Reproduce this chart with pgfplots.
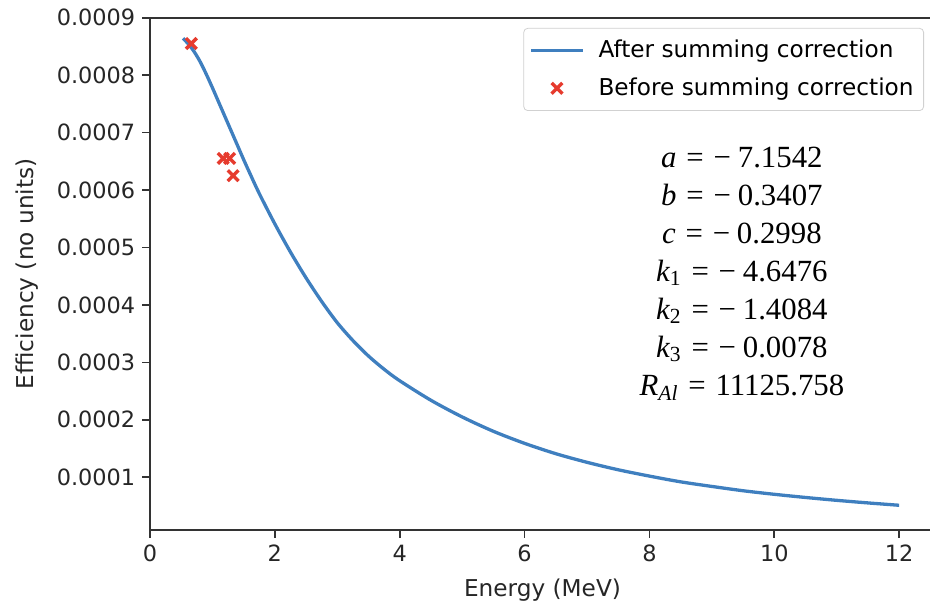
\documentclass[border=0pt]{standalone}
\usepackage{pgfplots}
\pgfplotsset{compat=1.18}
\usepackage{fontspec}
\setmainfont{DejaVu Sans}
\newfontfamily\tms{Liberation Serif}
\definecolor{curveblue}{HTML}{3F7FBF}
\definecolor{xred}{HTML}{E63B2E}
\definecolor{axgray}{HTML}{333333}
\newcommand{\eqs}{\hspace{0.32em}=\hspace{0.32em}−\hspace{0.22em}}
\begin{document}
\begin{tikzpicture}
\begin{axis}[
  name=ax,
  scale only axis,
  width=392.5pt, height=256.2pt,
  xmin=0, xmax=12.575,
  ymin=0.000008, ymax=0.0009,
  xtick={0,2,4,6,8,10,12},
  ytick={0.0001,0.0002,0.0003,0.0004,0.0005,0.0006,0.0007,0.0008,0.0009},
  scaled y ticks=false,
  yticklabel={\pgfmathprintnumber[fixed,fixed zerofill,precision=4]{\tick}},
  /pgf/number format/assume math mode=true,
  tick align=outside,
  major tick length=3.85pt,
  tick style={axgray, line width=0.85pt},
  axis line style={axgray, line width=0.85pt},
  axis x line*=bottom, axis y line*=left,
  ticklabel style={font=\fontsize{11.2}{13}\selectfont, text=black!85},
  label style={font=\fontsize{11.6}{14}\selectfont, text=black!85},
  xlabel={Energy (MeV)},
  ylabel={Efficiency (no units)},
  xlabel style={yshift=-1.5pt},
  ylabel style={yshift=2.5pt},
  legend cell align=left,
  legend style={at={(rel axis cs:0.986,0.98)}, anchor=north east,
    draw=black!18, rounded corners=2pt, fill=white,
    font=\fontsize{11.6}{14}\selectfont, row sep=4.5pt, inner xsep=3pt, inner ysep=4pt},
]
\addplot[curveblue, line width=1.65pt, smooth, tension=0.5,
  legend image code/.code={\draw[curveblue, line width=1.65pt] (0cm,0cm) -- (0.9cm,0cm); \path (1.08cm,0);}]
  coordinates {
  (0.53,0.000864) (0.60,0.000856) (0.70,0.000842) (0.80,0.000824)
  (0.90,0.000802) (1.00,0.000778) (1.10,0.000753) (1.20,0.000728)
  (1.30,0.000703) (1.40,0.000678) (1.50,0.000653) (1.60,0.000629)
  (1.75,0.000594) (2.00,0.000541) (2.25,0.000492) (2.50,0.000447)
  (2.75,0.000406) (3.00,0.000369) (3.25,0.000338) (3.50,0.000311)
  (3.75,0.000288) (4.00,0.000268) (4.50,0.000234) (5.00,0.000205)
  (5.50,0.000180) (6.00,0.000159) (6.50,0.000141) (7.00,0.000126)
  (7.50,0.000113) (8.00,0.000102) (8.50,0.000092) (9.00,0.000084)
  (9.50,0.0000765) (10.00,0.0000703) (10.50,0.0000648) (11.00,0.0000598)
  (11.50,0.0000553) (12.00,0.0000512)};
\addlegendentry{After summing correction}
\addplot[only marks, mark=x, mark size=3.8pt, xred, line width=1.7pt,
  legend image code/.code={\pgfuseplotmark{x}\path (0.63cm,0);},
  legend image post style={xshift=0.45cm}]
  coordinates {(0.662,0.000855) (1.173,0.000655) (1.275,0.000655) (1.332,0.000625)};
\addlegendentry{Before summing correction}
\node[align=center, font=\tms\fontsize{15.4}{19}\selectfont, inner sep=0pt]
  at (rel axis cs:0.754,0.50) {%
  {\itshape a}\eqs 7.1542\\
  {\itshape b}\eqs 0.3407\\
  {\itshape c}\eqs 0.2998\\
  {\itshape k}\textsubscript{1}\eqs 4.6476\\
  {\itshape k}\textsubscript{2}\eqs 1.4084\\
  {\itshape k}\textsubscript{3}\eqs 0.0078\\
  {\itshape R}\textsubscript{\itshape Al}\hspace{0.32em}=\hspace{0.32em}11125.758};
\end{axis}
\draw[axgray, line width=0.85pt] (ax.north west) -- (ax.north east);
\pgfresetboundingbox
\useasboundingbox ([shift={(-75pt,-38pt)}]ax.south west) rectangle ([shift={(-2.5pt,8.85pt)}]ax.north east);
\end{tikzpicture}
\end{document}
